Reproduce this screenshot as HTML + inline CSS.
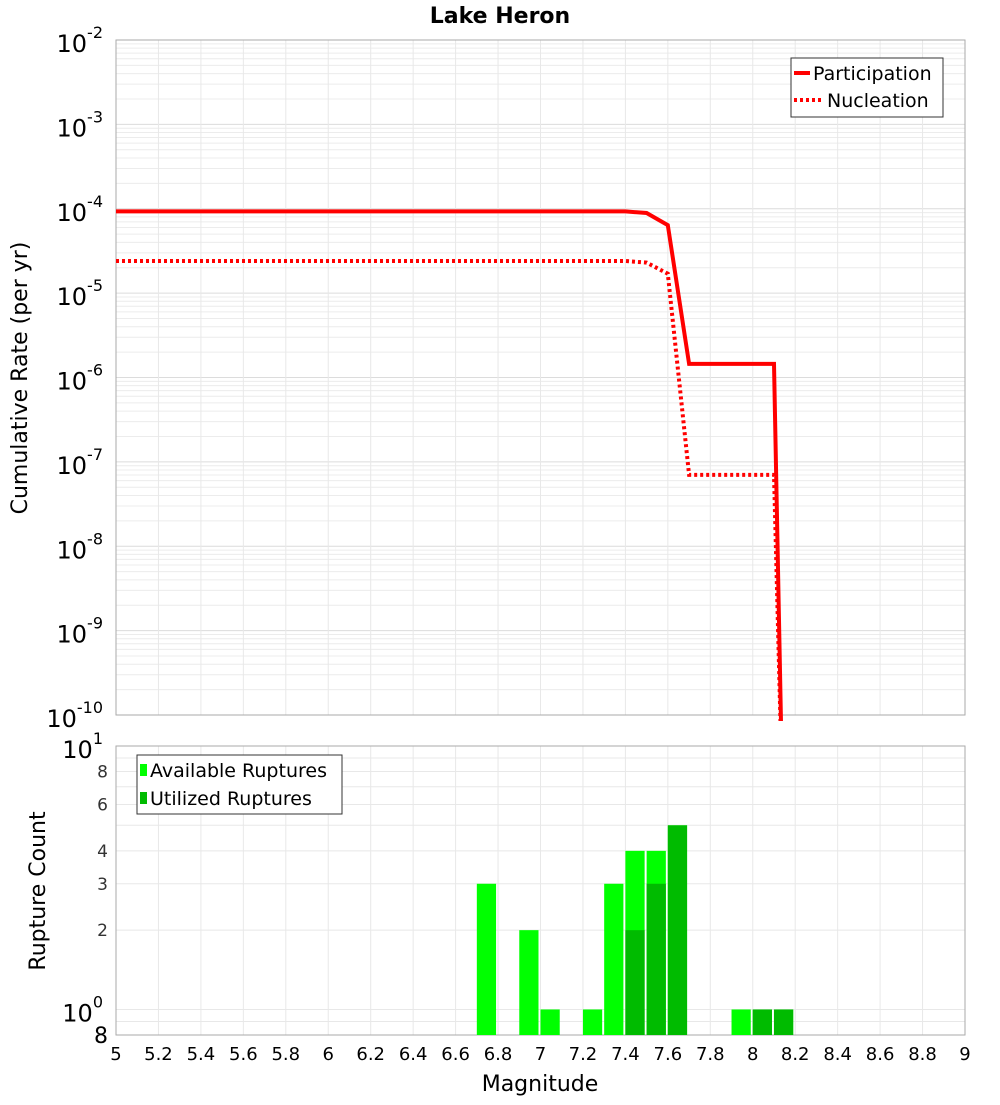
<!DOCTYPE html>
<html><head><meta charset="utf-8"><style>
body{margin:0;background:#fff;font-family:"Liberation Sans","DejaVu Sans",sans-serif;}
svg text{font-family:"DejaVu Sans","Liberation Sans",sans-serif;}
</style></head><body>
<svg id="c" width="1000" height="1100" xmlns="http://www.w3.org/2000/svg"></svg>
<script>
const mags=[5,7.4,7.5,7.6,7.7,8.1,8.14];
const participation=[9.3e-5,9.3e-5,8.9e-5,6.4e-5,1.45e-6,1.45e-6,1e-11];
const nucleation=[2.4e-5,2.4e-5,2.3e-5,1.7e-5,7e-8,7e-8,1e-11];
const binStarts=[6.7,6.9,7.0,7.2,7.3,7.4,7.5,7.6,7.9,8.0,8.1];
const available=[3,2,1,1,3,4,4,5,1,1,1];
const utilStarts=[7.4,7.5,7.6,8.0,8.1];
const utilized=[2,3,5,1,1];
const xTicks=[5,5.2,5.4,5.6,5.8,6,6.2,6.4,6.6,6.8,7,7.2,7.4,7.6,7.8,8,8.2,8.4,8.6,8.8,9];
const yExps=[-10,-9,-8,-7,-6,-5,-4,-3,-2];
const cTicks=[2,3,4,6,8];

const S=document.getElementById('c');const NS='http://www.w3.org/2000/svg';
function mk(t,a,p,txt){const e=document.createElementNS(NS,t);for(const k in a)e.setAttribute(k,a[k]);if(txt!=null)e.textContent=txt;(p||S).appendChild(e);return e;}
const L=116,R=965,T1=40,B1=715,T2=746,B2=1035;
const X=m=>L+(m-5)/4*(R-L);
const Y1=v=>B1-(Math.log10(v)+10)/8*(B1-T1);
const lo=Math.log10(0.8),hi=1;
const Y2=v=>B2-(Math.log10(v)-lo)/(hi-lo)*(B2-T2);

let t=mk('text',{x:500,y:23,'text-anchor':'middle','font-size':22,'font-weight':'bold'},S,'Lake Heron');


// top grid
let g=mk('g',{stroke:'#e8e8e8','stroke-width':1});

for(const e of yExps){for(let k=1;k<10;k++){const v=k*Math.pow(10,e);if(v>1e-2)break;const y=Y1(v);mk('line',{x1:L,x2:R,y1:y,y2:y,stroke:k==1?'#dcdcdc':'#ececec'},g);}}
for(const m of xTicks){mk('line',{x1:X(m),x2:X(m),y1:T1,y2:B1},g);mk('line',{x1:X(m),x2:X(m),y1:T2,y2:B2},g);}
// bottom grid
for(let v=1;v<=10;v++){const y=Y2(v);mk('line',{x1:L,x2:R,y1:y,y2:y},g);}
mk('line',{x1:L,x2:R,y1:Y2(0.9),y2:Y2(0.9)},g);

mk('rect',{x:L,y:T1,width:R-L,height:B1-T1,fill:'none',stroke:'#aaa'});
mk('rect',{x:L,y:T2,width:R-L,height:B2-T2,fill:'none',stroke:'#aaa'});

// y ticks top
for(const e of yExps){const y=Y1(Math.pow(10,e));
 const tx=mk('text',{x:103,y:y+12,'text-anchor':'end','font-size':24});
 
 mk('tspan',{},tx,'10');mk('tspan',{dy:-14,'font-size':16},tx,String(e));}
t=mk('text',{x:27,y:378,'text-anchor':'middle','font-size':22,transform:'rotate(-90 27 378)'},S,'Cumulative Rate (per yr)');


// lines
const clip=mk('clipPath',{id:'cp'});mk('rect',{x:L,y:T1,width:R-L,height:B1-T1+6},clip);
function path(vals){return vals.map((v,i)=>(i?'L':'M')+X(mags[i]).toFixed(1)+','+Y1(v).toFixed(1)).join(' ');}
let p=mk('path',{d:path(participation),fill:'none',stroke:'#f00','stroke-width':4,'clip-path':'url(#cp)'});

p=mk('path',{d:path(nucleation),fill:'none',stroke:'#f00','stroke-width':4,'stroke-dasharray':'3,3','clip-path':'url(#cp)'});


// legend top
let lg=mk('g',{});
mk('rect',{x:791,y:58,width:152,height:59,fill:'#fff',stroke:'#333'},lg);
mk('line',{x1:794,x2:810,y1:73,y2:73,stroke:'#f00','stroke-width':4},lg);
mk('text',{x:813,y:80,'font-size':19},lg,'Participation');
mk('line',{x1:794,x2:824,y1:100,y2:100,stroke:'#f00','stroke-width':4,'stroke-dasharray':'3,3'},lg);
mk('text',{x:827,y:107,'font-size':19},lg,'Nucleation');

// bars
const bw=(X(5.1)-X(5))-2;
binStarts.forEach((m,i)=>{const r=mk('rect',{x:X(m),y:Y2(available[i]),width:bw,height:B2-Y2(available[i]),fill:'#00ff00'});
 });
utilStarts.forEach((m,i)=>{const r=mk('rect',{x:X(m),y:Y2(utilized[i]),width:bw,height:B2-Y2(utilized[i]),fill:'#00bb00'});
 });

// bottom y ticks
for(const v of cTicks){const tx=mk('text',{x:108,y:Y2(v)+6,'text-anchor':'end','font-size':17,fill:'#333'},S,String(v));
 }
t=mk('text',{x:103,y:Y2(10)+12,'text-anchor':'end','font-size':24});mk('tspan',{},t,'10');mk('tspan',{dy:-14,'font-size':16},t,'1');
t=mk('text',{x:103,y:Y2(1)+12,'text-anchor':'end','font-size':24});mk('tspan',{},t,'10');mk('tspan',{dy:-14,'font-size':16},t,'0');
t=mk('text',{x:108,y:1043,'text-anchor':'end','font-size':22},S,'8');
t=mk('text',{x:45,y:891,'text-anchor':'middle','font-size':22,transform:'rotate(-90 45 891)'},S,'Rupture Count');


// legend bottom
lg=mk('g',{});
mk('rect',{x:137,y:755,width:205,height:59,fill:'#fff',stroke:'#333'},lg);
mk('rect',{x:140,y:764,width:7,height:12,fill:'#00ff00'},lg);
mk('text',{x:150,y:777,'font-size':19},lg,'Available Ruptures');
mk('rect',{x:140,y:792,width:7,height:12,fill:'#00bb00'},lg);
mk('text',{x:150,y:805,'font-size':19},lg,'Utilized Ruptures');

// x ticks
for(const m of xTicks){const tx=mk('text',{x:X(m),y:1060,'text-anchor':'middle','font-size':18},S,String(m));
 }
t=mk('text',{x:540,y:1091,'text-anchor':'middle','font-size':22},S,'Magnitude');

</script>
</body></html>
